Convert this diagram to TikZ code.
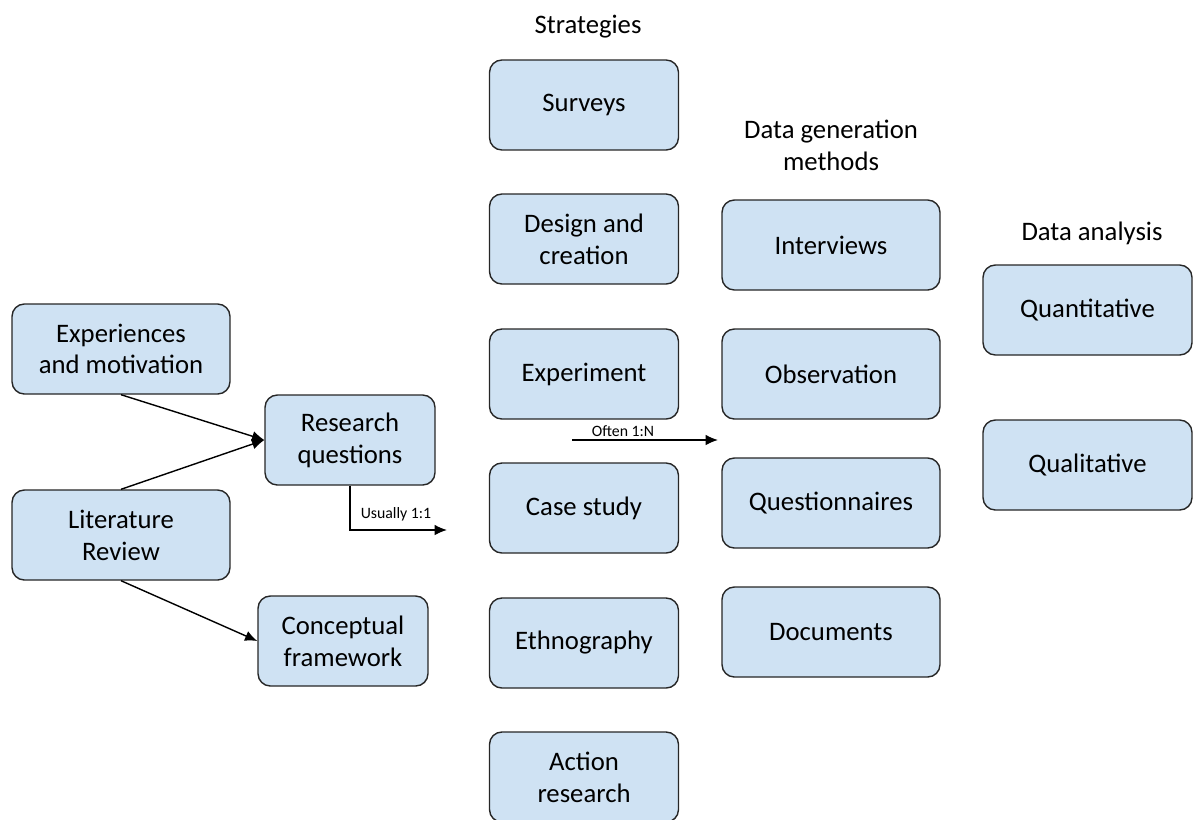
\documentclass[tikz,border=0pt]{standalone}
\usepackage{fontspec}
\setmainfont{Carlito}
\usepackage{xcolor}
\usetikzlibrary{arrows.meta, positioning}
\definecolor{boxblue}{HTML}{CFE2F3}

\begin{document}
\begin{tikzpicture}[x=0.02cm, y=-0.02cm,
    box/.style={draw=black!85, fill=boxblue, rounded corners=7pt, line width=0.8pt,
                minimum width=4.36cm, minimum height=1.8cm, align=center,
                font=\fontsize{15.2}{18.1}\selectfont},
    strat/.style={box, minimum width=3.78cm},
    small/.style={box, minimum width=3.4cm},
    head/.style={align=center, font=\fontsize{15.2}{18.1}\selectfont},
    lbl/.style={font=\fontsize{9}{10}\selectfont, inner sep=1pt},
    arr/.style={-{Latex[length=7pt,width=6pt]}, line width=0.8pt}
  ]
    \useasboundingbox (0,0) rectangle (1193,819);

    % left side
    \node[box] (exp) at (121,349) {Experiences\\and motivation};
    \node[box] (lit) at (121,535) {Literature\\Review};
    \node[small] (rq) at (350,440) {Research\\questions};
    \node[small] (cf) at (343,641) {Conceptual\\framework};

    % strategies
    \node[head] (strath) at (588,27) {Strategies};
    \node[strat] (surv) at (584,105) {Surveys};
    \node[strat] (des)  at (584,239) {Design and\\creation};
    \node[strat] (expt) at (584,374) {Experiment};
    \node[strat] (case) at (584,508) {Case study};
    \node[strat] (eth)  at (584,643) {Ethnography};
    \node[strat] (act)  at (584,777) {Action\\research};

    % data generation methods
    \node[head] (dgh) at (831,145) {Data generation\\methods};
    \node[box] (intv) at (831,245) {Interviews};
    \node[box] (obs)  at (831,374) {Observation};
    \node[box] (ques) at (831,503) {Questionnaires};
    \node[box] (docs) at (831,632) {Documents};

    % data analysis
    \node[head] (dah) at (1092,233) {Data analysis};
    \node[box, minimum width=4.18cm] (quan) at (1087.5,310) {Quantitative};
    \node[box, minimum width=4.18cm] (qual) at (1087.5,465) {Qualitative};

    % connectors
    \coordinate (u1) at (447,530);
    \coordinate (o1) at (572,440);
    \coordinate (o2) at (718,440);
    \draw[arr] (exp.south) -- (rq.west);
    \draw[arr] (lit.north) -- (rq.west);
    \draw[arr] (lit.south) -- (cf.west);
    \draw[arr] (rq.south) |- (u1);
    \node[lbl] (ulbl) at (396,514) {Usually 1:1};
    \draw[arr] (o1) -- (o2);
    \node[lbl] (olbl) at (623,431) {Often 1:N};
\end{tikzpicture}
\end{document}
